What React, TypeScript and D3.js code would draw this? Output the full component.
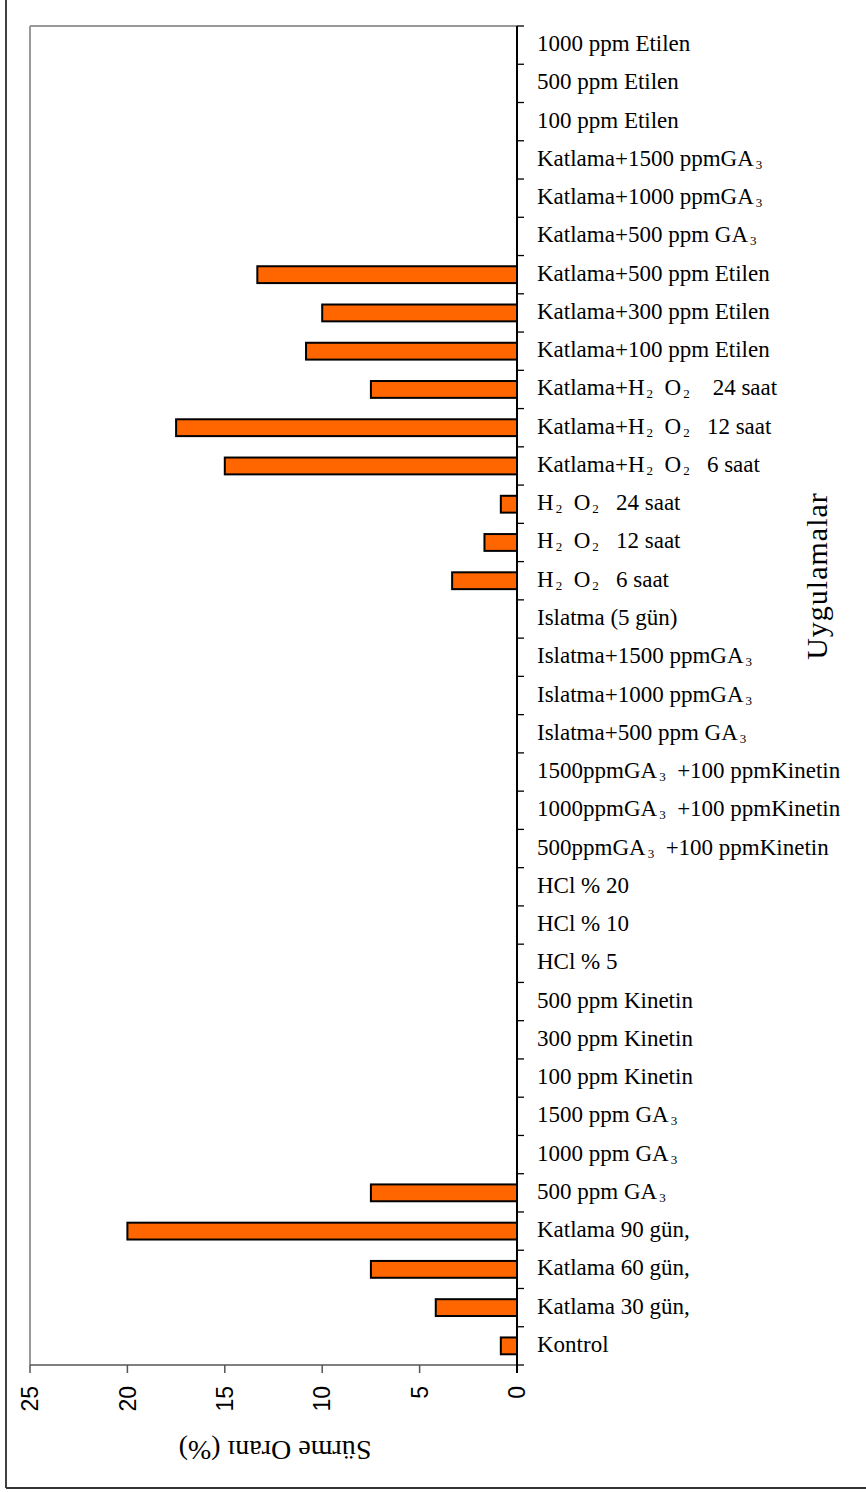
import React from 'react';
import * as d3 from 'd3';

// Treatments, listed from the bottom of the axis to the top.
// "_n" marks a subscript digit.
const categories: string[] = [
  'Kontrol',
  'Katlama 30 gün,',
  'Katlama 60 gün,',
  'Katlama 90 gün,',
  '500 ppm GA_3',
  '1000 ppm GA_3',
  '1500 ppm GA_3',
  '100 ppm Kinetin',
  '300 ppm Kinetin',
  '500 ppm Kinetin',
  'HCl % 5',
  'HCl % 10',
  'HCl % 20',
  '500ppmGA_3  +100 ppmKinetin',
  '1000ppmGA_3  +100 ppmKinetin',
  '1500ppmGA_3  +100 ppmKinetin',
  'Islatma+500 ppm GA_3',
  'Islatma+1000 ppmGA_3',
  'Islatma+1500 ppmGA_3',
  'Islatma (5 gün)',
  'H_2  O_2   6 saat',
  'H_2  O_2   12 saat',
  'H_2  O_2   24 saat',
  'Katlama+H_2  O_2   6 saat',
  'Katlama+H_2  O_2   12 saat',
  'Katlama+H_2  O_2    24 saat',
  'Katlama+100 ppm Etilen',
  'Katlama+300 ppm Etilen',
  'Katlama+500 ppm Etilen',
  'Katlama+500 ppm GA_3',
  'Katlama+1000 ppmGA_3',
  'Katlama+1500 ppmGA_3',
  '100 ppm Etilen',
  '500 ppm Etilen',
  '1000 ppm Etilen',
];

// Germination rate (%) per treatment, same order as categories.
const sprouting: number[] = [
  0.83, 4.17, 7.5, 20, 7.5, 0, 0, 0, 0, 0, 0, 0, 0, 0, 0, 0, 0, 0, 0, 0,
  3.33, 1.67, 0.83, 15, 17.5, 7.5, 10.83, 10, 13.33, 0, 0, 0, 0, 0, 0,
];

const valueTicks: number[] = [0, 5, 10, 15, 20, 25];
const valueTitle = 'Sürme Oranı (%)';
const categoryTitle = 'Uygulamalar';

const W = 866;
const H = 1492;
const plot = { left: 30, right: 517, top: 26, bottom: 1365 };

function LabelText({ label, x, y }: { label: string; x: number; y: number }) {
  const parts = label.split(/_(\d)/);
  const nodes: React.ReactNode[] = [];
  let shifted = false;
  parts.forEach((p, i) => {
    if (p === '') return;
    if (i % 2 === 1) {
      nodes.push(
        <tspan key={i} fontSize={13} dy={shifted ? 0 : 3} dx={2}>
          {p}
        </tspan>
      );
      shifted = true;
    } else {
      nodes.push(
        <tspan key={i} dy={shifted ? -3 : 0}>
          {p}
        </tspan>
      );
      shifted = false;
    }
  });
  return (
    <text
      x={x}
      y={y}
      fontFamily="'Liberation Serif', 'Times New Roman', serif"
      fontSize={23}
      fill="#000"
      style={{ whiteSpace: 'pre' }}
    >
      {nodes}
    </text>
  );
}

export default function App() {
  const x = d3.scaleLinear().domain([0, 25]).range([plot.right, plot.left]);
  const idx = categories.map((_, i) => String(i));
  const y = d3
    .scaleBand<string>()
    .domain(idx)
    .range([plot.bottom, plot.top])
    .paddingInner(0.56)
    .paddingOuter(0.28);
  const step = y.step();
  const boundaries = d3.range(categories.length + 1).map((i) => plot.bottom - i * step);

  return (
    <svg
      width={W}
      height={H}
      style={{ position: 'absolute', left: 0, top: 0, background: '#fff' }}
    >
      <rect x={0} y={0} width={W} height={H} fill="#fff" />
      {/* outer frame */}
      <line x1={6} y1={0} x2={6} y2={1488} stroke="#111" strokeWidth={1.6} />
      <line x1={6} y1={1488} x2={W} y2={1488} stroke="#333" strokeWidth={2} />

      {/* plot area border */}
      <line x1={plot.left} y1={plot.top} x2={plot.right} y2={plot.top} stroke="#999" strokeWidth={2} />
      <line x1={plot.left} y1={plot.top} x2={plot.left} y2={plot.bottom} stroke="#999" strokeWidth={2} />

      {/* bars */}
      {sprouting.map((v, i) =>
        v > 0 ? (
          <rect
            key={i}
            x={x(v)}
            y={y(String(i))}
            width={x(0) - x(v)}
            height={y.bandwidth()}
            fill="#FF6600"
            stroke="#000"
            strokeWidth={2}
          />
        ) : null
      )}

      {/* value axis */}
      <line x1={plot.left} y1={plot.bottom} x2={plot.right} y2={plot.bottom} stroke="#555" strokeWidth={1.6} />
      {valueTicks.map((t) => (
        <g key={t}>
          <line x1={x(t)} y1={plot.bottom} x2={x(t)} y2={plot.bottom + 8} stroke="#555" strokeWidth={1.5} />
          <text
            transform={`translate(${x(t)},${plot.bottom + 21}) rotate(-90)`}
            textAnchor="end"
            dy="0.36em"
            fontFamily="'Liberation Sans', Arial, sans-serif"
            fontSize={23}
            fill="#000"
          >
            {t}
          </text>
        </g>
      ))}

      {/* category axis */}
      <line x1={plot.right} y1={plot.top} x2={plot.right} y2={plot.bottom + 8} stroke="#000" strokeWidth={2} />
      {boundaries.map((b, i) => (
        <line key={i} x1={plot.right} y1={b} x2={plot.right + 7} y2={b} stroke="#000" strokeWidth={1.3} />
      ))}
      {categories.map((c, i) => (
        <LabelText key={i} label={c} x={537} y={(y(String(i)) as number) + y.bandwidth() / 2 + 6} />
      ))}

      {/* axis titles */}
      <text
        transform={`translate(275,1441) rotate(180)`}
        textAnchor="middle"
        fontFamily="'Liberation Serif', 'Times New Roman', serif"
        fontSize={28}
        fill="#000"
      >
        {valueTitle}
      </text>
      <text
        transform={`translate(827,576) rotate(-90)`}
        textAnchor="middle"
        fontFamily="'Liberation Serif', 'Times New Roman', serif"
        fontSize={30}
        letterSpacing={1}
        fill="#000"
      >
        {categoryTitle}
      </text>
    </svg>
  );
}
